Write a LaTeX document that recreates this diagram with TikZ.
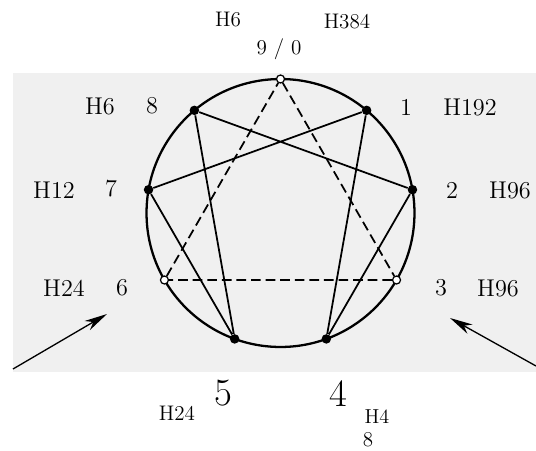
\documentclass[tikz,border=0pt]{standalone}
\usepackage{tikz}
\usetikzlibrary{arrows.meta}

\begin{document}
\begin{tikzpicture}[
  x=0.02cm, y=0.02cm,
  ring/.style={draw, circle, line width=1.3pt, minimum size=5.36cm, inner sep=0pt},
  dot/.style={circle, fill=black, inner sep=0pt, minimum size=0.19cm},
  hollow/.style={circle, draw, fill=white, line width=0.7pt, inner sep=0pt, minimum size=0.16cm},
  chord/.style={draw, line width=1pt},
  dashline/.style={draw, line width=1pt, dash pattern=on 5.5pt off 2.8pt},
  pointer/.style={draw, line width=0.75pt, -{Stealth[length=13pt, width=6pt, inset=4pt]}},
  lbl/.style={inner sep=0pt, font=\fontsize{13.8}{16}\selectfont},
  tag/.style={inner sep=0pt, font=\fontsize{12}{14}\selectfont}
]
\useasboundingbox (-280.5,-237) rectangle (255.5,213);
\fill[black!6] (-267.5,-159) rectangle (255.5,140);

% circle and the nine points
\node[ring] (ring) at (0,0) {};
\node[hollow] (p0) at (90:134) {};
\node[dot] (p1) at (50:134) {};
\node[dot] (p2) at (10:134) {};
\node[hollow] (p3) at (-30:134) {};
\node[dot] (p4) at (-70:134) {};
\node[dot] (p5) at (-110:134) {};
\node[hollow] (p6) at (-150:134) {};
\node[dot] (p7) at (-190:134) {};
\node[dot] (p8) at (-230:134) {};

% hexad and triangle
\draw[chord] (p1) -- (p4) -- (p2) -- (p8) -- (p5) -- (p7) -- (p1);
\draw[dashline] (p0) -- (p3) -- (p6) -- (p0);

% labels from the scan
\node[lbl] (n8) at (-128.5,107) {8};
\node[lbl] (h8) at (-180.5,107) {H6};
\node[lbl] (n1) at (125.5,106) {1};
\node[lbl] (h1) at (189.5,106) {H192};
\node[lbl] (n7) at (-169.5,24) {7};
\node[lbl] (h7) at (-226.5,23) {H12};
\node[lbl] (n2) at (171.5,23) {2};
\node[lbl] (h2) at (229.5,23) {H96};
\node[lbl] (n6) at (-158.5,-75) {6};
\node[lbl] (h6) at (-216.5,-75) {H24};
\node[lbl] (n3) at (160.5,-75) {3};
\node[lbl] (h3) at (217.5,-75) {H96};

% added labels
\node[tag] (n0) at (-1.5,164) {9 / 0};
\node[tag] (h0a) at (-52.5,193.5) {H6};
\node[tag] (h0b) at (66.5,191) {H384};
\node[tag, font=\fontsize{22}{26}\selectfont] (n5) at (-57.5,-180) {5};
\node[tag, font=\fontsize{22}{26}\selectfont] (n4) at (57.5,-181) {4};
\node[tag] (h5) at (-103.5,-200) {H24};
\node[tag, font=\fontsize{11.5}{14}\selectfont] (h4) at (96.5,-204) {H4};
\node[tag] (m4) at (87.5,-227) {8};

% arrows
\coordinate (inL) at (-267.5,-156);
\coordinate (tipL) at (-173.5,-101);
\coordinate (inR) at (255.5,-153);
\coordinate (tipR) at (169.5,-105);
\draw[pointer] (inL) -- (tipL);
\draw[pointer] (inR) -- (tipR);
\end{tikzpicture}
\end{document}
